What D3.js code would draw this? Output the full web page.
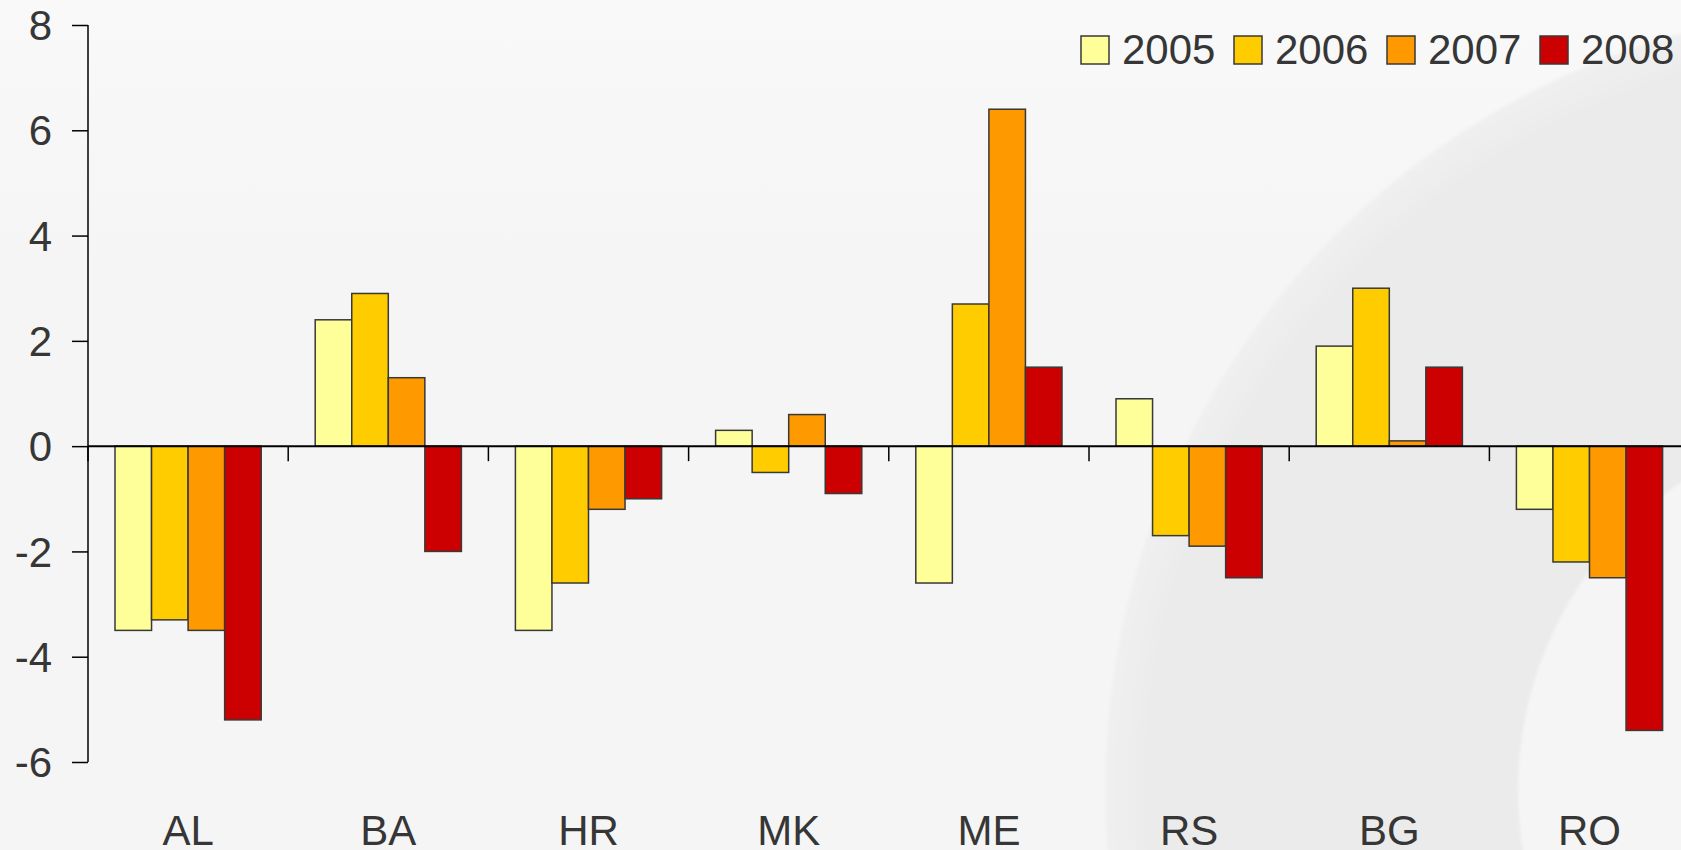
<!DOCTYPE html>
<html>
<head>
<meta charset="utf-8">
<script src="https://cdn.jsdelivr.net/npm/d3@7"></script>
<style>
  html, body { margin: 0; padding: 0; background: #f5f5f5; overflow: hidden; }
  svg { display: block; }
  text { font-family: "Liberation Sans", Arial, sans-serif; fill: #363636; }
</style>
</head>
<body>
<svg id="chart" width="1681" height="850"></svg>
<script>
const categories = ["AL", "BA", "HR", "MK", "ME", "RS", "BG", "RO"];
const years = ["2005", "2006", "2007", "2008"];
const values2005 = [-3.5, 2.4, -3.5, 0.3, -2.6, 0.9, 1.9, -1.2];
const values2006 = [-3.3, 2.9, -2.6, -0.5, 2.7, -1.7, 3.0, -2.2];
const values2007 = [-3.5, 1.3, -1.2, 0.6, 6.4, -1.9, 0.1, -2.5];
const values2008 = [-5.2, -2.0, -1.0, -0.9, 1.5, -2.5, 1.5, -5.4];
const yTicks = [-6, -4, -2, 0, 2, 4, 6, 8];
const colors = ["#ffff99", "#ffcc00", "#ff9900", "#cc0000"];

const series = [values2005, values2006, values2007, values2008];

const W = 1681, H = 850;
const svg = d3.select("#chart");
const defs = svg.append("defs");

// background
const bg = defs.append("linearGradient").attr("id", "bgGrad")
  .attr("x1", 0).attr("y1", 0).attr("x2", 0).attr("y2", 1);
bg.append("stop").attr("offset", "0%").attr("stop-color", "#f9f9f9");
bg.append("stop").attr("offset", "30%").attr("stop-color", "#f5f5f5");
bg.append("stop").attr("offset", "100%").attr("stop-color", "#f5f5f5");
svg.append("rect").attr("width", W).attr("height", H).attr("fill", "url(#bgGrad)");

const ring = defs.append("radialGradient").attr("id", "ringGrad")
  .attr("gradientUnits", "userSpaceOnUse")
  .attr("cx", 1890).attr("cy", 790).attr("r", 785);
ring.append("stop").attr("offset", "0%").attr("stop-color", "#ebebeb");
ring.append("stop").attr("offset", "95%").attr("stop-color", "#ebebeb");
ring.append("stop").attr("offset", "100%").attr("stop-color", "#f0f0f0");
const blur = defs.append("filter").attr("id", "soft");
blur.append("feGaussianBlur").attr("stdDeviation", 1.5);
svg.append("circle").attr("cx", 1890).attr("cy", 790).attr("r", 785)
  .attr("fill", "url(#ringGrad)").attr("filter", "url(#soft)");
svg.append("circle").attr("cx", 1890).attr("cy", 790).attr("r", 372)
  .attr("fill", "#f5f5f5").attr("filter", "url(#soft)");

// scales
const left = 88;
const step = 200.2;
const x0 = d3.scaleBand().domain(categories)
  .range([left, left + step * categories.length]).padding(0);
const bw = x0.bandwidth();
const x1 = d3.scaleBand().domain(years).range([27, bw - 27]).padding(0);
const y = d3.scaleLinear().domain([-6, 8]).range([762, 25]);

// bars
const data = categories.map((c, i) => ({ cat: c, vals: years.map((yr, j) => ({ yr, v: series[j][i], j })) }));
const groups = svg.append("g").selectAll("g").data(data).join("g")
  .attr("transform", d => `translate(${x0(d.cat)},0)`);
groups.selectAll("rect").data(d => d.vals).join("rect")
  .attr("x", d => x1(d.yr))
  .attr("width", x1.bandwidth())
  .attr("y", d => y(Math.max(0, d.v)))
  .attr("height", d => Math.abs(y(d.v) - y(0)))
  .attr("fill", d => colors[d.j])
  .attr("stroke", "#383838")
  .attr("stroke-width", 1.5);

// y axis
const yAxis = svg.append("g").attr("transform", `translate(${left},0)`)
  .call(d3.axisLeft(y).tickValues(yTicks).tickSize(16).tickPadding(20).tickFormat(d => String(d)));
yAxis.select(".domain").attr("stroke", "#000").attr("stroke-width", 1.5).attr("d", `M0,${y(8)}V${y(-6)}`);
yAxis.selectAll(".tick line").attr("stroke", "#000").attr("stroke-width", 1.5);
yAxis.selectAll(".tick text").attr("font-size", 42).attr("fill", "#363636")
  .attr("font-family", "Liberation Sans, Arial, sans-serif").attr("dy", "0.35em");

// x axis at zero
const boundaries = categories.map(c => x0(c)).concat([x0(categories[categories.length - 1]) + bw]);
const xAxis = svg.append("g").attr("transform", `translate(0,${y(0)})`);
xAxis.append("line").attr("x1", left).attr("x2", W).attr("y1", 0).attr("y2", 0)
  .attr("stroke", "#000").attr("stroke-width", 2);
xAxis.selectAll("line.tk").data(boundaries).join("line").attr("class", "tk")
  .attr("x1", d => d).attr("x2", d => d).attr("y1", 0).attr("y2", 15)
  .attr("stroke", "#000").attr("stroke-width", 1.5);

// category labels
svg.append("g").selectAll("text").data(categories).join("text")
  .attr("x", d => x0(d) + bw / 2)
  .attr("y", 845)
  .attr("text-anchor", "middle")
  .attr("font-size", 42)
  .text(d => d);

// legend
const legend = svg.append("g").attr("transform", "translate(1081,36)");
const items = legend.selectAll("g").data(years).join("g")
  .attr("transform", (d, i) => `translate(${i * 153},0)`);
items.append("rect").attr("width", 28).attr("height", 28)
  .attr("fill", (d, i) => colors[i]).attr("stroke", "#383838").attr("stroke-width", 1.5);
items.append("text").attr("x", 41).attr("y", 28).attr("font-size", 42).text(d => d);
</script>
</body>
</html>
